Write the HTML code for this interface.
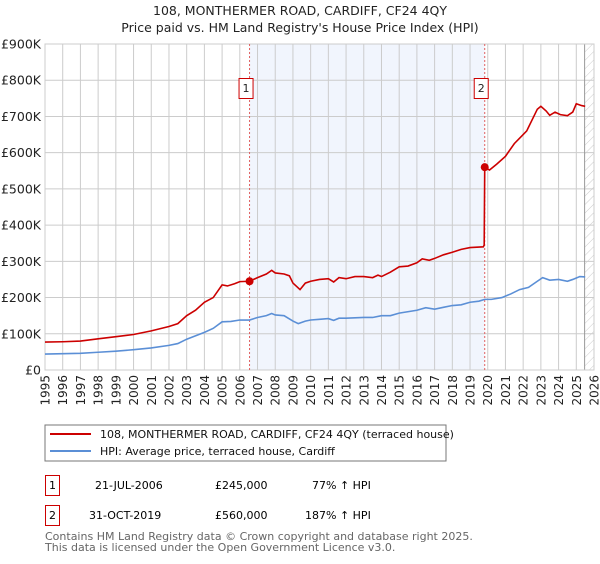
<!DOCTYPE html>
<html><head><meta charset="utf-8"><style>
body{margin:0;background:#fff;font-family:"DejaVu Sans","Liberation Sans",sans-serif;}
svg text{font-family:"DejaVu Sans","Liberation Sans",sans-serif;}
</style></head><body>
<svg id="c" width="600" height="560" xmlns="http://www.w3.org/2000/svg">
<defs><pattern id="hatch" width="6" height="6" patternUnits="userSpaceOnUse" patternTransform="rotate(45)"><line x1="0" y1="0" x2="0" y2="6" stroke="#ccc" stroke-width="1"/></pattern></defs>
<text x="300" y="15" text-anchor="middle" font-size="12.5" fill="#222">108, MONTHERMER ROAD, CARDIFF, CF24 4QY</text>
<text x="300" y="32" text-anchor="middle" font-size="12.5" fill="#222">Price paid vs. HM Land Registry's House Price Index (HPI)</text>
<g id="plot"></g>
<rect x="45" y="425" width="401" height="36" fill="#fff" stroke="#777"/>
<line x1="50" y1="434" x2="91" y2="434" stroke="#cc0000" stroke-width="2"/>
<text x="100" y="438" font-size="11" fill="#111">108, MONTHERMER ROAD, CARDIFF, CF24 4QY (terraced house)</text>
<line x1="50" y1="451" x2="91" y2="451" stroke="#5b8fd6" stroke-width="2"/>
<text x="100" y="455" font-size="11" fill="#111">HPI: Average price, terraced house, Cardiff</text>
<g>
<rect x="45.5" y="475.5" width="14" height="20" fill="#fff" stroke="#cc0000"/>
<text x="52.5" y="489" text-anchor="middle" font-size="11">1</text>
<text x="95" y="489" font-size="11">21-JUL-2006</text>
<text x="215" y="489" font-size="11">£245,000</text>
<text x="312" y="489" font-size="11">77% ↑ HPI</text></g>
<g>
<rect x="45.5" y="505.5" width="14" height="20" fill="#fff" stroke="#cc0000"/>
<text x="52.5" y="519" text-anchor="middle" font-size="11">2</text>
<text x="89" y="519" font-size="11">31-OCT-2019</text>
<text x="215" y="519" font-size="11">£560,000</text>
<text x="305" y="519" font-size="11">187% ↑ HPI</text></g>
<text x="45" y="540" font-size="11" fill="#666">Contains HM Land Registry data © Crown copyright and database right 2025.</text>
<text x="45" y="551" font-size="11" fill="#666">This data is licensed under the Open Government Licence v3.0.</text>
</svg>
<script>
const yTicks=[0,100,200,300,400,500,600,700,800,900];
const yTickLabels=["£0","£100K","£200K","£300K","£400K","£500K","£600K","£700K","£800K","£900K"];
const years=[1995,1996,1997,1998,1999,2000,2001,2002,2003,2004,2005,2006,2007,2008,2009,2010,2011,2012,2013,2014,2015,2016,2017,2018,2019,2020,2021,2022,2023,2024,2025,2026];
const hpiT=[1995,1996,1997,1998,1999,2000,2001,2002,2002.5,2003,2004,2004.5,2005,2005.5,2006,2006.55,2007,2007.5,2007.8,2008,2008.5,2009,2009.3,2009.7,2010,2010.5,2011,2011.3,2011.6,2012,2013,2013.5,2014,2014.5,2015,2016,2016.5,2017,2017.5,2018,2018.5,2019,2019.5,2019.83,2020.2,2020.8,2021.3,2021.8,2022.3,2022.8,2023.1,2023.5,2024,2024.5,2024.8,2025.2,2025.5];
const hpiV=[44,45,46,49,52,56,61,68,73,85,104,115,133,134,138,138,145,150,156,152,150,135,128,135,138,140,142,137,143,143,145,145,150,150,157,165,172,168,173,178,180,187,190,195,195,200,210,222,228,245,255,248,250,245,250,258,257];
const priceT=[1995,1996,1997,1998,1999,2000,2001,2002,2002.5,2003,2003.5,2004,2004.5,2005,2005.3,2005.7,2006,2006.55,2007,2007.5,2007.8,2008,2008.5,2008.8,2009,2009.4,2009.7,2010,2010.5,2011,2011.3,2011.6,2012,2012.5,2013,2013.5,2013.8,2014,2014.5,2015,2015.5,2016,2016.3,2016.7,2017,2017.5,2018,2018.5,2019,2019.75,2019.8,2019.83,2020.1,2020.5,2021,2021.5,2021.8,2022.2,2022.6,2022.8,2023,2023.3,2023.5,2023.8,2024.1,2024.5,2024.8,2025,2025.3,2025.5];
const priceV=[77,78,80,86,92,98,108,120,128,150,165,187,200,235,232,238,244,245,255,265,275,268,265,260,240,222,240,245,250,252,243,255,252,258,258,255,262,258,270,285,287,296,307,303,308,318,325,333,338,340,345,560,552,568,590,625,640,660,700,720,728,715,703,712,705,702,712,735,730,728];
const saleT=[2006.55,2019.83];
const saleV=[245,560];
const saleLabels=["1","2"];
const dataEnd=2025.47;

const X0=45,X1=594,Y0=370,Y1=44;
const xs=t=>X0+(t-1995)/(2026-1995)*(X1-X0);
const ys=v=>Y0-v/900*(Y0-Y1);
const NS="http://www.w3.org/2000/svg";
const g=document.getElementById('plot');
function mk(tag,attrs,parent){const e=document.createElementNS(NS,tag);for(const k in attrs)e.setAttribute(k,attrs[k]);(parent||g).appendChild(e);return e;}

let e=mk('rect',{x:xs(saleT[0]),y:Y1,width:xs(saleT[1])-xs(saleT[0]),height:Y0-Y1,fill:'#eef2fc',opacity:0.8});


e=mk('rect',{x:xs(dataEnd),y:Y1,width:X1-xs(dataEnd),height:Y0-Y1,fill:'url(#hatch)'});


years.forEach(y=>{e=mk('line',{x1:xs(y),x2:xs(y),y1:Y1,y2:Y0,stroke:'#ccc','stroke-width':1});

});
yTicks.forEach((v,i)=>{e=mk('line',{x1:X0,x2:X1,y1:ys(v),y2:ys(v),stroke:'#ccc','stroke-width':1});


const t=mk('text',{x:X0-4,y:ys(v)+4.5,'text-anchor':'end','font-size':12.5,fill:'#222'});t.textContent=yTickLabels[i];

});
years.forEach((y,i)=>{const x=xs(y)+4.5;const t=mk('text',{x:x,y:375,'text-anchor':'end','font-size':12,fill:'#222',transform:`rotate(-90 ${x} 375)`});t.textContent=y;

});
e=mk('line',{x1:xs(dataEnd),x2:xs(dataEnd),y1:Y1,y2:Y0,stroke:'#999','stroke-width':1});


e=mk('rect',{x:X0,y:Y1,width:X1-X0,height:Y0-Y1,fill:'none',stroke:'#ccc'});


saleT.forEach((t,i)=>{e=mk('line',{x1:xs(t),x2:xs(t),y1:Y1,y2:Y0,stroke:'#e06060','stroke-width':1,'stroke-dasharray':'2,2'});

});
e=mk('polyline',{points:hpiT.map((t,i)=>xs(t)+','+ys(hpiV[i])).join(' '),fill:'none',stroke:'#5b8fd6','stroke-width':1.6});


e=mk('polyline',{points:priceT.map((t,i)=>xs(t)+','+ys(priceV[i])).join(' '),fill:'none',stroke:'#cc0000','stroke-width':1.6});


saleT.forEach((t,i)=>{e=mk('circle',{cx:xs(t),cy:ys(saleV[i]),r:4,fill:'#cc0000'});


const b=mk('rect',{x:xs(t)-10.5,y:78.5,width:14,height:20,fill:'#fff',stroke:'#cc0000'});


const tx=mk('text',{x:xs(t)-3.5,y:92,'text-anchor':'middle','font-size':11,fill:'#222'});tx.textContent=saleLabels[i];

});
</script>
</body></html>
